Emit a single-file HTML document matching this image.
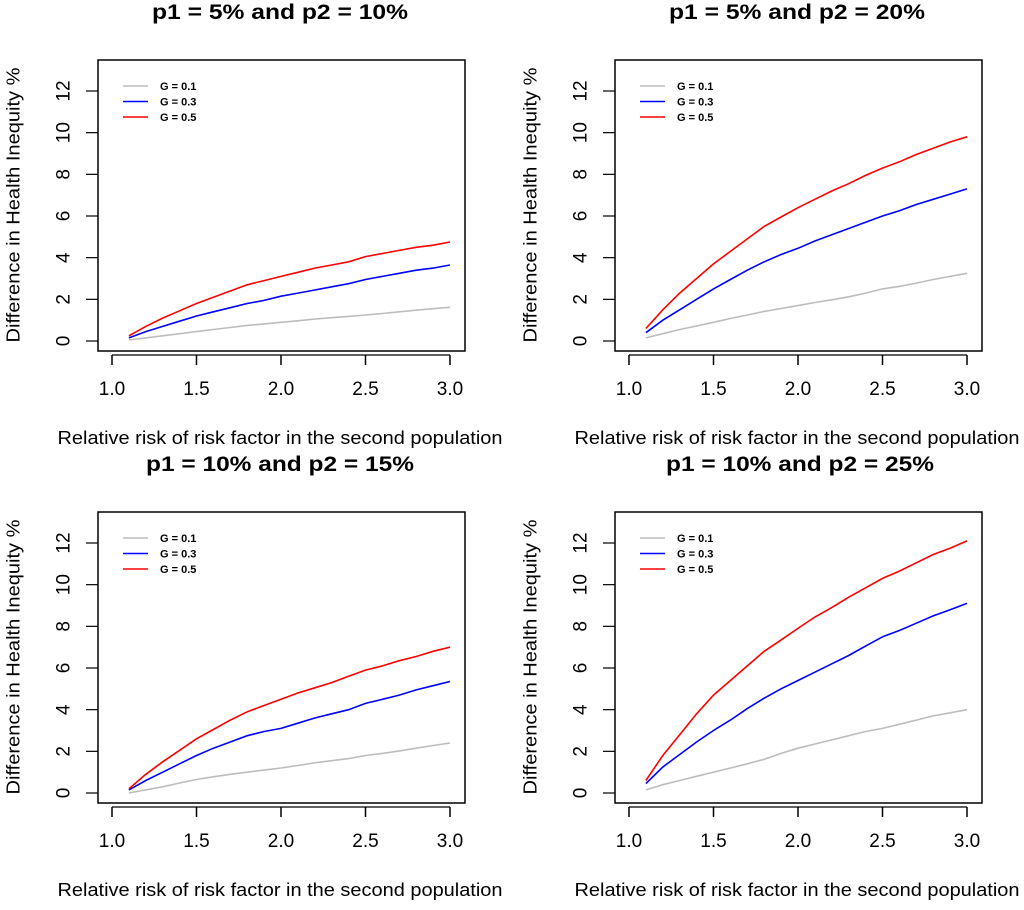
<!DOCTYPE html>
<html><head><meta charset="utf-8"><style>
html,body{margin:0;padding:0;background:#fff;}
svg{display:block;font-family:"Liberation Sans",Arial,sans-serif;}
</style></head><body>
<svg id="chart" width="1024" height="910" viewBox="0 0 1024 910" xmlns="http://www.w3.org/2000/svg"></svg>
<script>
const xs = [1.1,1.2,1.3,1.4,1.5,1.6,1.7,1.8,1.9,2.0,2.1,2.2,2.3,2.4,2.5,2.6,2.7,2.8,2.9,3.0];
const xTicks = [1.0,1.5,2.0,2.5,3.0];
const xTickLabels = ["1.0","1.5","2.0","2.5","3.0"];
const yTicks = [0,2,4,6,8,10,12];
const seriesNames = ["G = 0.1","G = 0.3","G = 0.5"];
const seriesColors = ["#bdbdbd","#0000ff","#ff0000"];
const panelTitles = ["p1 = 5% and p2 = 10%","p1 = 5% and p2 = 20%","p1 = 10% and p2 = 15%","p1 = 10% and p2 = 25%"];
const tlGray = [0.05,0.15,0.25,0.35,0.45,0.55,0.65,0.75,0.82,0.9,0.97,1.05,1.12,1.18,1.25,1.32,1.4,1.48,1.55,1.62];
const tlBlue = [0.15,0.45,0.7,0.95,1.2,1.4,1.6,1.8,1.95,2.15,2.3,2.45,2.6,2.75,2.95,3.1,3.25,3.4,3.5,3.65];
const tlRed = [0.25,0.7,1.1,1.45,1.8,2.1,2.4,2.7,2.9,3.1,3.3,3.5,3.65,3.8,4.05,4.2,4.35,4.5,4.6,4.75];
const trGray = [0.15,0.35,0.55,0.72,0.9,1.08,1.25,1.42,1.56,1.7,1.85,1.98,2.12,2.3,2.5,2.62,2.78,2.95,3.1,3.25];
const trBlue = [0.4,1.0,1.5,2.0,2.5,2.95,3.4,3.8,4.15,4.45,4.8,5.1,5.4,5.7,6.0,6.25,6.55,6.8,7.05,7.3];
const trRed = [0.6,1.5,2.3,3.0,3.7,4.3,4.9,5.5,5.95,6.4,6.8,7.2,7.55,7.95,8.3,8.6,8.95,9.25,9.55,9.8];
const blGray = [0.0,0.15,0.3,0.48,0.65,0.78,0.9,1.0,1.1,1.2,1.32,1.45,1.55,1.65,1.8,1.9,2.02,2.15,2.28,2.4];
const blBlue = [0.15,0.6,1.0,1.4,1.8,2.15,2.45,2.75,2.95,3.1,3.35,3.6,3.8,4.0,4.3,4.5,4.7,4.95,5.15,5.35];
const blRed = [0.2,0.9,1.5,2.05,2.6,3.05,3.5,3.9,4.2,4.5,4.8,5.05,5.3,5.6,5.9,6.1,6.35,6.55,6.8,7.0];
const brGray = [0.15,0.4,0.6,0.8,1.0,1.2,1.4,1.62,1.9,2.15,2.35,2.55,2.75,2.95,3.1,3.3,3.5,3.7,3.85,4.0];
const brBlue = [0.45,1.25,1.85,2.45,3.0,3.5,4.05,4.55,5.0,5.4,5.8,6.2,6.6,7.05,7.5,7.8,8.15,8.5,8.8,9.1];
const brRed = [0.6,1.8,2.8,3.8,4.7,5.4,6.1,6.8,7.35,7.9,8.45,8.9,9.4,9.85,10.3,10.65,11.05,11.45,11.75,12.1];

const NS="http://www.w3.org/2000/svg";
const svg=document.getElementById('chart');
function mk(tag,attrs,parent){const e=document.createElementNS(NS,tag);for(const k in attrs)e.setAttribute(k,attrs[k]);(parent||svg).appendChild(e);return e;}

const panels=[
 {bx:98,by:60,tag:"top-left",title:panelTitles[0],tx:280,data:[tlGray,tlBlue,tlRed]},
 {bx:615,by:60,tag:"top-right",title:panelTitles[1],tx:797,data:[trGray,trBlue,trRed]},
 {bx:98,by:512,tag:"bottom-left",title:panelTitles[2],tx:280,data:[blGray,blBlue,blRed]},
 {bx:615,by:512,tag:"bottom-right",title:panelTitles[3],tx:800,data:[brGray,brBlue,brRed]}
];
panels.forEach(p=>{
  const g=mk('g',{});
  
  
  const bw=367,bh=291;
  const xScale=v=>p.bx+14+(v-1.0)/2.0*338;
  const yScale=v=>p.by+281-v/12*250;
  const t=mk('text',{x:p.tx,y:p.by-41,'text-anchor':'middle','font-size':21,'font-weight':'bold',fill:'#000',textLength:p.title.length>20?268:256,lengthAdjust:'spacingAndGlyphs'},g);
  t.textContent=p.title;
  
  
  const box=mk('rect',{x:p.bx,y:p.by,width:bw,height:bh,fill:'none',stroke:'#000','stroke-width':1.5},g);
  
  
  const xa=mk('g',{},g);
  
  
  mk('line',{x1:xScale(xTicks[0]),x2:xScale(xTicks[xTicks.length-1]),y1:p.by+bh+4,y2:p.by+bh+4,stroke:'#000','stroke-width':1.2},xa);
  xTicks.forEach((v,i)=>{
    mk('line',{x1:xScale(v),x2:xScale(v),y1:p.by+bh+4,y2:p.by+bh+14,stroke:'#000','stroke-width':1.5},xa);
    const l=mk('text',{x:xScale(v),y:p.by+bh+44,'text-anchor':'middle','font-size':19,fill:'#000'},xa);
    l.textContent=xTickLabels[i];
    
    
  });
  const xt=mk('text',{x:p.bx+182,y:p.by+bh+93,'text-anchor':'middle','font-size':18,fill:'#000',textLength:445,lengthAdjust:'spacingAndGlyphs'},g);
  xt.textContent="Relative risk of risk factor in the second population";
  
  
  const ya=mk('g',{},g);
  
  
  yTicks.forEach(v=>{
    mk('line',{x1:p.bx-12,x2:p.bx,y1:yScale(v),y2:yScale(v),stroke:'#000','stroke-width':1.2},ya);
    const lx=p.bx-35;
    const l=mk('text',{x:lx,y:yScale(v),'text-anchor':'middle','font-size':19,fill:'#000',transform:`rotate(-90 ${lx} ${yScale(v)})`,dy:'0.35em'},ya);
    l.textContent=String(v);
    
    
  });
  const yx=p.bx-85, yy=p.by+145;
  const yt=mk('text',{x:yx,y:yy,'text-anchor':'middle','font-size':18,fill:'#000',transform:`rotate(-90 ${yx} ${yy})`,dy:'0.35em',textLength:275,lengthAdjust:'spacingAndGlyphs'},g);
  yt.textContent="Difference in Health Inequity %";
  
  
  p.data.forEach((vals,si)=>{
    const d=vals.map((v,i)=>(i?'L':'M')+xScale(xs[i]).toFixed(1)+' '+yScale(v).toFixed(1)).join(' ');
    const path=mk('path',{d:d,fill:'none',stroke:seriesColors[si],'stroke-width':1.6},g);
    
    
  });
  const lg=mk('g',{},g);
  
  
  seriesNames.forEach((n,i)=>{
    const y=p.by+26+i*15.5;
    mk('line',{x1:p.bx+25,x2:p.bx+50,y1:y,y2:y,stroke:seriesColors[i],'stroke-width':1.6},lg);
    const l=mk('text',{x:p.bx+62,y:y+4,'font-size':11,'font-weight':'bold',fill:'#000'},lg);
    l.textContent=n;
    
    
  });
});
</script>
</body></html>
